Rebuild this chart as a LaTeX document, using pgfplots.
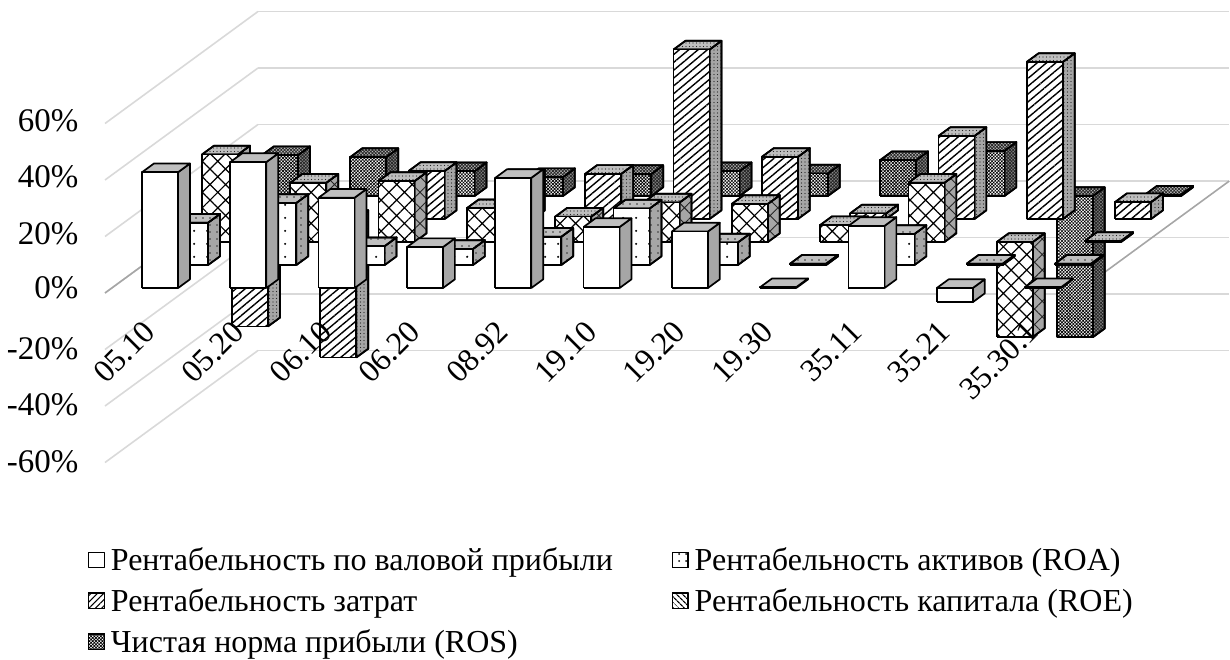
\documentclass[border=0pt]{standalone}
\usepackage{fontspec}
\setmainfont{Liberation Serif}
\usepackage{pgfplots}
\pgfplotsset{compat=1.18}
\usetikzlibrary{patterns,patterns.meta}
\definecolor{gA}{HTML}{BFBFBF}
\definecolor{gB}{HTML}{A6A6A6}
\definecolor{gC}{HTML}{8C8C8C}
\tikzset{
  edge/.style={draw=black,line width=1.7pt,line join=round},
  PD/.style={postaction={pattern={Dots[distance=13pt,radius=1.2pt]},pattern color=black}},
  PDs/.style={postaction={pattern={Dots[distance=7pt,radius=0.9pt]},pattern color=black!80}},
  PL/.style={postaction={pattern={Lines[angle=40,distance=6pt,line width=1.4pt]},pattern color=black}},
  PLs/.style={postaction={pattern={Dots[distance=3.5pt,radius=0.7pt]},pattern color=black!85}},
  PX/.style={postaction={pattern={Hatch[angle=45,distance=11pt,line width=1.2pt]},pattern color=black}},
  PXs/.style={postaction={pattern={Hatch[angle=45,distance=11pt,line width=0.9pt]},pattern color=black!85}},
  PC/.style={postaction={pattern={Hatch[angle=45,distance=2.3pt,line width=0.62pt]},pattern color=black}},
  PCs/.style={postaction={pattern={Hatch[angle=45,distance=2.3pt,line width=0.8pt]},pattern color=black!85}},
  F0/.style={fill=white},S0/.style={fill=gB},T0/.style={fill=gA},
  F1/.style={fill=white,PD},S1/.style={fill=gB,PDs},T1/.style={fill=gA,PDs},
  F3/.style={fill=white,PL},S3/.style={fill=gB,PLs},T3/.style={fill=gA,PLs},
  F2/.style={fill=white,PX},S2/.style={fill=gB,PXs},T2/.style={fill=gA,PLs},
  F4/.style={fill=white,PC},S4/.style={fill=gC,PCs},T4/.style={fill=gA,PCs},
  catlabel/.style={rotate=45,anchor=east,font=\fontsize{32}{34}\selectfont},
}
% bar of category #1, row #2, value #3 (percent)
\newcommand\B[3]{%
  \pgfmathsetmacro\xa{#1+0.3428-0.0162*#2}%
  \pgfmathsetmacro\xb{\xa+0.408}%
  \pgfmathsetmacro\ya{0.22+1.027*#2}%
  \pgfmathsetmacro\yb{\ya+0.39}%
  \pgfmathsetmacro\zt{max(#3,0)}%
  \pgfmathsetmacro\zb{min(#3,0)}%
  \addplot3[forget plot,edge,S#2] coordinates {(\xb,\ya,\zb)(\xb,\yb,\zb)(\xb,\yb,\zt)(\xb,\ya,\zt)(\xb,\ya,\zb)};
  \addplot3[forget plot,edge,T#2] coordinates {(\xa,\ya,\zt)(\xb,\ya,\zt)(\xb,\yb,\zt)(\xa,\yb,\zt)(\xa,\ya,\zt)};
  \addplot3[forget plot,edge,F#2] coordinates {(\xa,\ya,\zb)(\xb,\ya,\zb)(\xb,\ya,\zt)(\xa,\ya,\zt)(\xa,\ya,\zb)};
}
\begin{document}
\begin{tikzpicture}[x=1pt,y=1pt]
\begin{axis}[
  at={(105pt,366pt)},anchor=origin,
  x={(88.3pt,0pt)},y={(30.6pt,22.4pt)},z={(0pt,2.825pt)},
  xmin=0,xmax=11,ymin=0,ymax=5,zmin=-60,zmax=60,
  clip=false,
  axis line style={draw=none},
  major tick length=0pt,
  tick style={draw=none},
  ytick=\empty,
  xtick=\empty,
  ztick={-60,-40,-20,0,20,40,60},
  zticklabels={-60\%,-40\%,-20\%,0\%,20\%,40\%,60\%},
  zticklabel style={xshift=-23pt,yshift=14pt,font=\fontsize{33}{34}\selectfont},
  zmajorgrids,
  major grid style={draw=black!15,line width=1.6pt},
  legend columns=2,
  legend cell align=left,
  legend image code/.code={\path[#1,edge,line width=1.2pt] (0pt,-7.75pt) rectangle (15.5pt,7.75pt);},
  legend style={draw=none,fill=none,font=\fontsize{32}{34}\selectfont,
    at={(axis description cs:0,0)},anchor=north west,xshift=-20pt,yshift=-81pt,
    /tikz/every odd column/.append style={column sep=4pt},
    /tikz/every even column/.append style={column sep=57pt},
    row sep=12.5pt},
]
\addlegendimage{F0}\addlegendentry{Рентабельность по валовой прибыли}
\addlegendimage{fill=white,postaction={pattern={Dots[distance=7pt,radius=1pt]},pattern color=black}}\addlegendentry{Рентабельность активов (ROA)}
\addlegendimage{fill=white,postaction={pattern={Lines[angle=45,distance=4.5pt,line width=1pt]},pattern color=black}}\addlegendentry{Рентабельность затрат}
\addlegendimage{fill=white,postaction={pattern={Lines[angle=-45,distance=4pt,line width=1.3pt]},pattern color=black}}\addlegendentry{Рентабельность капитала (ROE)}
\addlegendimage{fill=white,postaction={pattern={Hatch[angle=45,distance=2.3pt,line width=0.7pt]},pattern color=black}}\addlegendentry{Чистая норма прибыли (ROS)}
% depth-axis floor lines at zero
\addplot3[forget plot,draw=gB,line width=1.6pt] coordinates {(0,0,0)(0,5,0)};
\addplot3[forget plot,draw=gB,line width=1.6pt] coordinates {(11,0,0)(11,5,0)};
% ROS (back row)
\B{0}{4}{14.5}\B{1}{4}{13.8}\B{2}{4}{8.8}\B{3}{4}{6.7}\B{4}{4}{7.8}\B{5}{4}{8.8}
\B{6}{4}{8}\B{7}{4}{12.7}\B{8}{4}{16}\B{9}{4}{-50}\B{10}{4}{0.5}
% cost return
\B{0}{3}{-38}\B{1}{3}{-49}\B{2}{3}{17}\B{3}{3}{14.5}\B{4}{3}{16}\B{5}{3}{60}
\B{6}{3}{22}\B{7}{3}{2}\B{8}{3}{29.4}\B{9}{3}{55.6}\B{10}{3}{6}
% ROE
\B{0}{2}{31}\B{1}{2}{21}\B{2}{2}{21.6}\B{3}{2}{12}\B{4}{2}{9}\B{5}{2}{14}
\B{6}{2}{13.5}\B{7}{2}{6}\B{8}{2}{21}\B{9}{2}{-33.6}\B{10}{2}{0.4}
% ROA
\B{0}{1}{15}\B{1}{1}{22}\B{2}{1}{6.7}\B{3}{1}{5.7}\B{4}{1}{10}\B{5}{1}{20}
\B{6}{1}{8}\B{7}{1}{0.5}\B{8}{1}{11}\B{9}{1}{0.5}\B{10}{1}{0.5}
% gross margin (front row)
\B{0}{0}{41}\B{1}{0}{44.6}\B{2}{0}{32}\B{3}{0}{14.5}\B{4}{0}{39}\B{5}{0}{21.6}
\B{6}{0}{20}\B{7}{0}{0.3}\B{8}{0}{22}\B{9}{0}{-5}\B{10}{0}{0.3}
% category names, above the bars
\node[catlabel] at (axis cs:0.534,0,-11) {05.10};
\node[catlabel] at (axis cs:1.534,0,-11) {05.20};
\node[catlabel] at (axis cs:2.534,0,-11) {06.10};
\node[catlabel] at (axis cs:3.534,0,-11) {06.20};
\node[catlabel] at (axis cs:4.534,0,-11) {08.92};
\node[catlabel] at (axis cs:5.534,0,-11) {19.10};
\node[catlabel] at (axis cs:6.534,0,-11) {19.20};
\node[catlabel] at (axis cs:7.534,0,-11) {19.30};
\node[catlabel] at (axis cs:8.534,0,-11) {35.11};
\node[catlabel] at (axis cs:9.534,0,-11) {35.21};
\node[catlabel] at (axis cs:10.534,0,-11) {35.30.1};
\end{axis}
\pgfresetboundingbox
\path[use as bounding box] (0,0) rectangle (1230,659);
\end{tikzpicture}
\end{document}
